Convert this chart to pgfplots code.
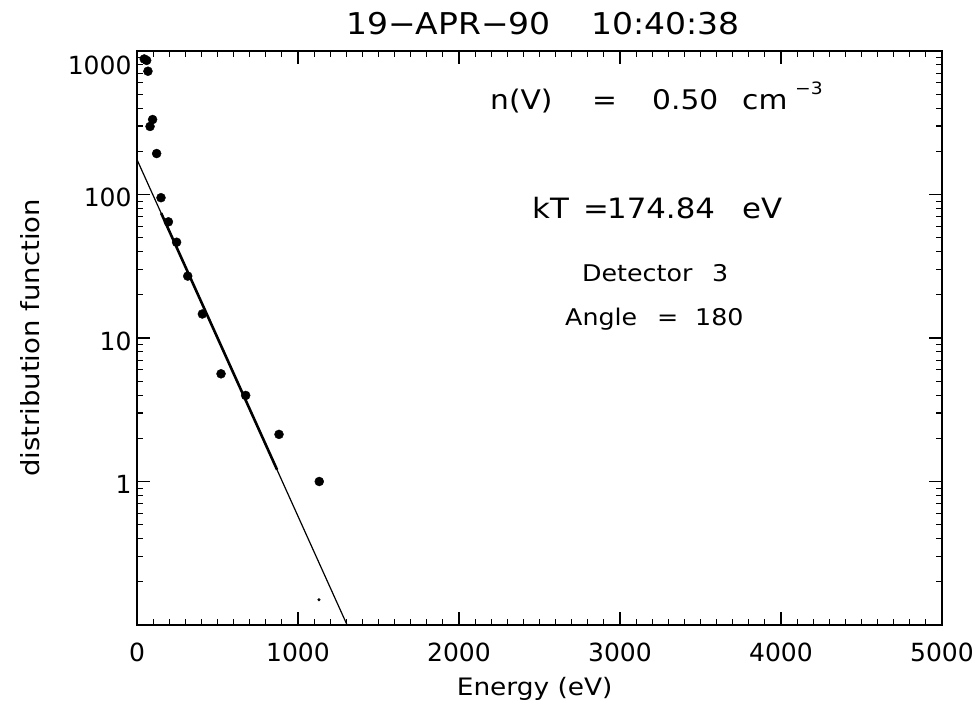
\documentclass[border=0pt]{standalone}
\usepackage{fontspec}
\setmainfont{DejaVu Sans}
\newfontfamily\wf{DejaVu Sans}[FakeStretch=1.1]
\usepackage{pgfplots}
\pgfplotsset{compat=1.18}
\begin{document}
\begin{tikzpicture}
\useasboundingbox (0,0) rectangle (979pt,713pt);
\begin{axis}[
  at={(137pt,88pt)}, anchor=south west,
  scale only axis, width=805pt, height=574pt,
  xmin=0, xmax=5000, ymode=log, ymin=0.1, ymax=1000,
  xtick={0,1000,2000,3000,4000,5000},
  xticklabels={0,1000,2000,3000,4000,5000},
  minor xtick={100,200,...,4900},
  ytick={1,10,100},
  yticklabels={1,10,100},
  minor ytick={0.2,0.3,0.4,0.5,0.6,0.7,0.8,0.9,2,3,4,5,6,7,8,9,20,30,40,50,60,70,80,90,200,300,400,500,600,700,800,900},
  extra y ticks={1000},
  extra y tick labels={1000},
  extra y tick style={yticklabel style={yshift=-11pt}},
  tick align=inside,
  major tick length=13pt,
  minor tick length=6pt,
  every tick/.style={black, line width=1.1pt},
  axis line style={line width=1.3pt},
  tick label style={font=\fontsize{25}{30}\selectfont},
  xticklabel style={yshift=-14.7pt},
  yticklabel style={xshift=-2pt, yshift=-3pt},
  /pgf/number format/assume math mode=true,
  xlabel={Energy (eV)},
  ylabel={distribution function},
  xlabel style={font=\wf\fontsize{24}{29}\selectfont, at={(axis description cs:0.494,-0.1115)}, anchor=center},
  ylabel style={font=\wf\fontsize{25}{30}\selectfont, at={(axis description cs:-0.1329,0.5)}, anchor=center},
]
\addplot[black, line width=1.2pt] coordinates {(0,175) (1305,0.1)};
\addplot[black, line width=2.6pt] coordinates {(150,74.2) (870,1.208)};
\addplot[only marks, mark=*, mark size=4.5pt, black] coordinates {
(45,880) (60,860) (68,723) (81,298) (97,333) (122,193) (149,95)
(195,64.5) (246,46.5) (315,27) (406,14.7) (522,5.63) (675,3.98)
(882,2.13) (1132,1.0)};
\addplot[only marks, mark=*, mark size=1.3pt, black] coordinates {(1130,0.15)};
\end{axis}
\begin{scope}[every node/.style={inner sep=0pt, anchor=base west}]
\node at (346pt,678pt) {\wf\fontsize{30}{36}\selectfont 19−APR−90};
\node at (591pt,678pt) {\wf\fontsize{30}{36}\selectfont 10:40:38};
\node at (490pt,603pt) {\wf\fontsize{27}{32}\selectfont n(V)};
\node at (592pt,603pt) {\wf\fontsize{27}{32}\selectfont =};
\node at (652pt,603pt) {\wf\fontsize{27}{32}\selectfont 0.50};
\node at (742pt,603pt) {\wf\fontsize{27}{32}\selectfont cm};
\node at (795pt,618pt) {\wf\fontsize{17}{20}\selectfont −3};
\node at (532pt,494pt) {\wf\fontsize{28}{33}\selectfont kT};
\node at (583pt,494pt) {\wf\fontsize{28}{33}\selectfont =};
\node at (607pt,494pt) {\wf\fontsize{28}{33}\selectfont 174.84};
\node at (742pt,494pt) {\wf\fontsize{28}{33}\selectfont eV};
\node at (582pt,431pt) {\wf\fontsize{23}{28}\selectfont Detector};
\node at (712pt,431pt) {\wf\fontsize{23}{28}\selectfont 3};
\node at (565pt,388pt) {\wf\fontsize{23}{28}\selectfont Angle};
\node at (657pt,388pt) {\wf\fontsize{23}{28}\selectfont =};
\node at (695pt,388pt) {\wf\fontsize{23}{28}\selectfont 180};
\end{scope}
\end{tikzpicture}
\end{document}
